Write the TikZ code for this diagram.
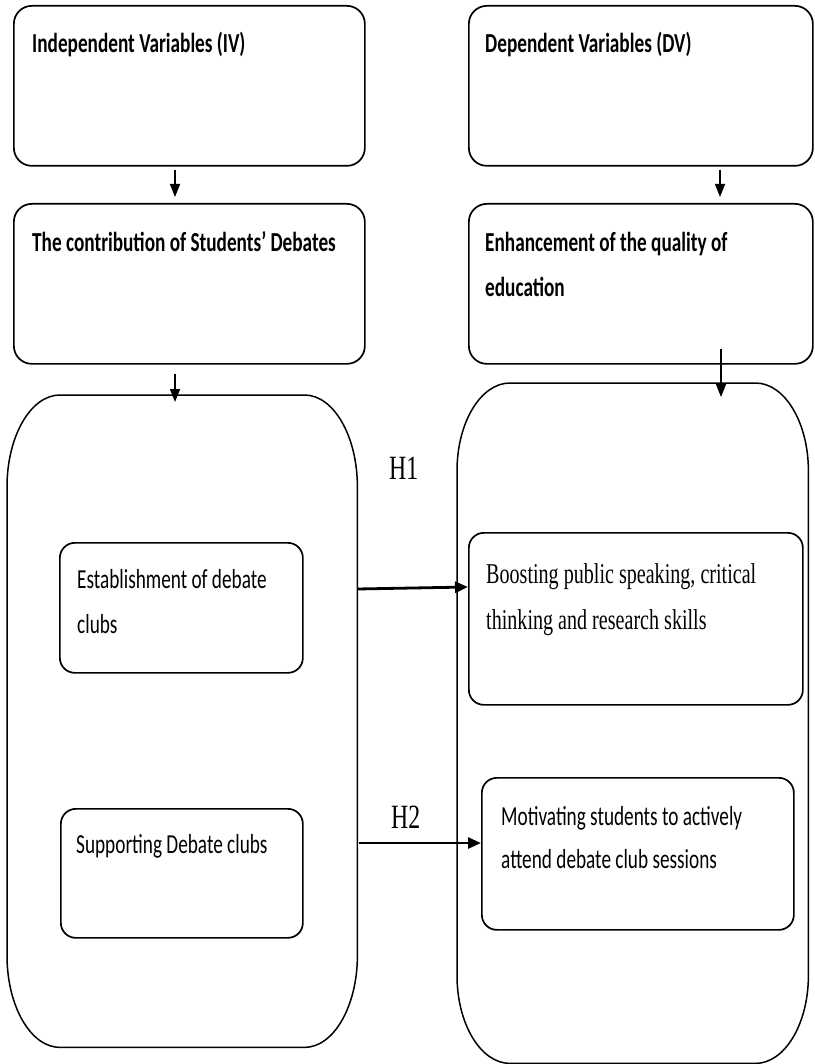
\documentclass[tikz,border=0pt]{standalone}
\usepackage{fontspec}
\usetikzlibrary{arrows.meta,calc}
\newfontfamily\calfont[FakeStretch=0.7]{Carlito}
\newfontfamily\tmsfont[FakeStretch=0.7]{Liberation Serif}
\newcommand\twoline[3]{\vtop{\baselineskip=#1pt\hbox{#2}\hbox{#3}}}
\newcommand\drawovalbox[3]{%
  \draw[oval] ($(#1.north west)+(#2,0)$) -- ($(#1.north east)+(-#2,0)$)
    arc[start angle=90,end angle=0,x radius=#2pt,y radius=#3pt]
    -- ($(#1.south east)+(0,-#3)$)
    arc[start angle=0,end angle=-90,x radius=#2pt,y radius=#3pt]
    -- ($(#1.south west)+(#2,0)$)
    arc[start angle=-90,end angle=-180,x radius=#2pt,y radius=#3pt]
    -- ($(#1.north west)+(0,#3)$)
    arc[start angle=180,end angle=90,x radius=#2pt,y radius=#3pt]
    -- cycle;}
\tikzset{
  box/.style={draw, line width=1.7pt, rounded corners=18pt, inner sep=0pt, anchor=north west},
  inbox/.style={draw, line width=1.7pt, rounded corners=15pt, inner sep=0pt, anchor=north west},
  frame/.style={inner sep=0pt, anchor=north west},
  hdr/.style={font=\calfont\bfseries\fontsize{27.5}{45}\selectfont, anchor=base west, inner sep=0pt},
  cal/.style={font=\calfont\fontsize{27.5}{45}\selectfont, anchor=base west, inner sep=0pt},
  tms/.style={font=\tmsfont\fontsize{28.7}{46}\selectfont, anchor=base west, inner sep=0pt},
  hlab/.style={font=\tmsfont\fontsize{34}{40}\selectfont, anchor=base west, inner sep=0pt},
  varr/.style={line width=1.5pt, -{Triangle[length=13pt,width=10pt]}},
  harr/.style={line width=2.8pt, -{Triangle[length=13pt,width=11pt]}},
  oval/.style={line width=1.5pt},
}
\begin{document}
\begin{tikzpicture}[x=1pt,y=-1pt]
\useasboundingbox (0,0) rectangle (814,1064);
% top boxes
\node[box, minimum width=351pt, minimum height=160pt] (iv) at (13,5) {};
\node[box, minimum width=344pt, minimum height=160pt] (dv) at (468,5) {};
\node[box, minimum width=351pt, minimum height=160pt] (cb) at (13,203) {};
\node[box, minimum width=344pt, minimum height=160pt] (enh) at (468,203) {};
% big frames
\node[frame, minimum width=350pt, minimum height=652pt] (lbig) at (7,395) {};
\node[frame, minimum width=351pt, minimum height=680pt] (rbig) at (457,383) {};
\drawovalbox{lbig}{53}{92}
\drawovalbox{rbig}{53}{88}
% inner boxes
\node[inbox, minimum width=243pt, minimum height=130pt] (est) at (59,542) {};
\node[inbox, minimum width=242pt, minimum height=129pt] (sup) at (60,808) {};
\node[inbox, minimum width=334pt, minimum height=172pt] (boost) at (468,532) {};
\node[inbox, minimum width=312pt, minimum height=152pt] (mot) at (481,777) {};
% texts
\node[hdr] (ivt) at (32,53) {Independent Variables (IV)};
\node[hdr] (dvt) at (485,53) {Dependent Variables (DV)};
\node[hdr] (cbt) at (32,252) {The contribution of Students’ Debates};
\node[hdr] (enht) at (485,252) {\twoline{45}{Enhancement of the quality of}{education}};
\node[cal] (estt) at (77,588) {\twoline{45}{Establishment of debate}{clubs}};
\node[cal] (supt) at (76,853) {Supporting Debate clubs};
\node[tms] (boostt) at (486,583) {\twoline{46}{Boosting public speaking, critical}{thinking and research skills}};
\node[cal] (mott) at (501,825) {\twoline{43}{Motivating students to actively}{attend debate club sessions}};
\node[hlab] (h1) at (389,479) {H1};
\node[hlab] (h2) at (391,828) {H2};
% connectors
\draw[varr] ($(iv.south west)+(162,3)$) -- ($(cb.north west)+(162,-6)$);
\draw[varr] ($(cb.south west)+(162,9)$) -- ($(lbig.north west)+(168,7)$);
\draw[varr] ($(dv.south west)+(252,3)$) -- ($(enh.north west)+(252,-6)$);
\draw[varr] ($(enh.south west)+(253,-16)$) -- ($(rbig.north west)+(264,14)$);
\draw[harr] ($(lbig.north east)+(0,194)$) -- ($(boost.north west)+(0,55)$);
\draw[harr] ($(lbig.north east)+(2,448)$) -- ($(mot.north west)+(0,66)$);
\end{tikzpicture}
\end{document}
